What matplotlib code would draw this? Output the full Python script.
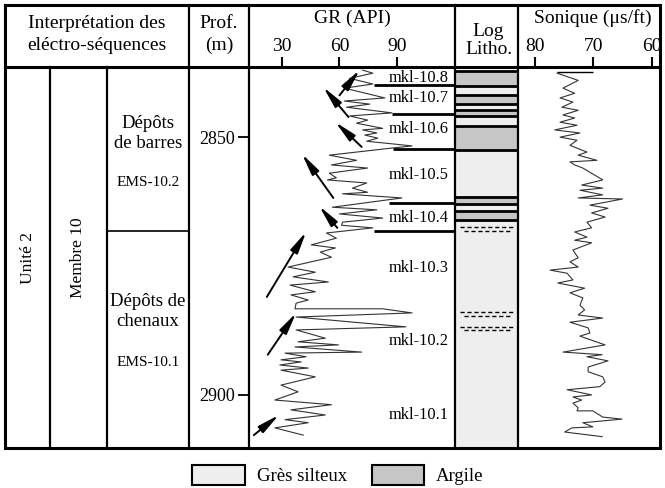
import matplotlib
matplotlib.use("Agg")
import matplotlib.pyplot as plt
from matplotlib.patches import Patch

plt.rcParams['font.family'] = ['Liberation Serif', 'DejaVu Serif']

# ---------------------------------------------------------------- data
# GR log (API) vs depth (m)
gr_depth = [2837.0, 2837.6, 2838.6, 2839.7, 2840.5, 2842.4, 2843.0, 2843.6, 2844.2, 2845.3,
            2845.9, 2846.7, 2847.3, 2848.3, 2848.6, 2849.2, 2849.6, 2850.2, 2850.8, 2851.7,
            2852.1, 2853.5, 2854.5, 2855.4, 2856.0, 2857.0, 2857.9, 2858.3, 2858.9, 2859.9,
            2860.7, 2861.0, 2861.8, 2863.6, 2864.1, 2864.9, 2865.7, 2866.5, 2867.1, 2867.6,
            2868.6, 2869.6, 2870.9, 2871.5, 2872.3, 2873.3, 2875.2, 2876.2, 2877.1, 2878.1,
            2878.7, 2880.0, 2880.6, 2881.6, 2882.2, 2883.3, 2883.3, 2884.1, 2884.9, 2886.8,
            2887.4, 2889.0, 2889.7, 2890.3, 2890.7, 2891.7, 2891.9, 2892.6, 2893.2, 2893.6,
            2894.2, 2894.8, 2895.2, 2896.5, 2898.1, 2899.4, 2901.0, 2901.9, 2902.9, 2903.9,
            2904.8, 2905.4, 2906.4, 2907.8]
gr_api = [72.1, 77.4, 65.3, 77.4, 62.6, 83.7, 62.6, 75.8, 63.7, 87.4,
          65.3, 74.7, 68.9, 82.6, 72.1, 79.5, 73.2, 80.0, 74.2, 97.9,
          87.9, 54.7, 68.9, 55.8, 74.7, 54.7, 58.4, 53.7, 74.2, 66.8,
          74.7, 61.6, 92.6, 56.3, 79.5, 60.0, 82.6, 61.6, 61.1, 77.4,
          53.2, 58.4, 45.3, 57.9, 50.0, 55.8, 33.2, 47.4, 35.8, 54.2,
          34.2, 47.4, 34.7, 43.7, 37.4, 36.8, 82.6, 97.9, 37.4, 94.7,
          37.4, 52.6, 38.4, 59.5, 36.8, 71.6, 31.6, 42.6, 29.5, 40.0,
          28.9, 43.7, 29.5, 47.4, 29.5, 38.4, 26.3, 55.8, 34.7, 52.6,
          31.6, 43.7, 26.3, 41.1]

# sonic log (us/ft) vs depth
son_depth = [2837.6, 2839.0, 2840.5, 2841.5, 2842.4, 2843.2, 2844.2, 2844.8, 2845.7, 2846.3,
             2847.1, 2847.7, 2848.6, 2849.2, 2850.0, 2850.6, 2851.6, 2852.9, 2853.5, 2854.5,
             2854.8, 2855.4, 2856.0, 2858.3, 2859.3, 2859.9, 2860.3, 2861.2, 2861.8, 2862.0,
             2863.2, 2863.8, 2864.7, 2865.5, 2866.5, 2867.6, 2868.4, 2869.4, 2870.0, 2870.5,
             2871.9, 2873.4, 2874.2, 2875.2, 2875.8, 2876.4, 2877.7, 2878.3, 2879.3, 2880.2,
             2881.2, 2882.6, 2883.5, 2884.5, 2885.1, 2885.9, 2887.0, 2888.0, 2888.6, 2890.3,
             2891.7, 2892.2, 2892.6, 2893.4, 2894.6, 2895.5, 2896.5, 2897.5, 2898.4, 2899.0,
             2900.0, 2900.4, 2901.0, 2901.6, 2902.5, 2903.1, 2903.1, 2904.3, 2904.7, 2905.4,
             2906.2, 2906.4, 2907.2, 2908.1]
son_us = [76.2, 72.6, 75.2, 73.2, 75.7, 73.5, 75.4, 72.6, 75.2, 73.2,
          75.7, 72.8, 76.6, 72.3, 75.7, 72.8, 74.0, 71.1, 72.6, 69.4,
          74.0, 73.2, 71.8, 68.4, 72.0, 68.4, 72.3, 68.4, 72.6, 65.0,
          70.6, 67.5, 70.3, 68.0, 71.1, 70.3, 73.2, 71.1, 73.2, 70.3,
          73.5, 72.6, 74.0, 72.6, 77.4, 74.5, 73.5, 76.1, 71.5, 74.0,
          71.8, 72.3, 71.5, 72.6, 68.4, 74.0, 70.9, 70.6, 72.3, 68.0,
          75.2, 68.5, 71.1, 67.5, 70.9, 70.9, 68.4, 68.0, 68.9, 74.5,
          70.3, 73.5, 72.0, 73.5, 72.6, 72.8, 70.1, 68.4, 65.1, 71.8,
          70.1, 73.7, 74.9, 68.5]
son_top_depth = 2837.4
son_top_range = (76.2, 70.1)

# lithology column
lith_top = [2837.2, 2840.0, 2841.9, 2843.5, 2844.8, 2846.0, 2847.9, 2852.5, 2861.6, 2863.0, 2864.4, 2866.0]
lith_bot = [2840.0, 2841.9, 2843.5, 2844.8, 2846.0, 2847.9, 2852.5, 2861.6, 2863.0, 2864.4, 2866.0, 2910.3]
lith_kind = ['argile', 'gres', 'argile', 'gres', 'argile', 'gres', 'argile', 'gres', 'argile', 'gres', 'argile', 'gres']
streak_depth = [2867.5, 2868.2, 2884.0, 2884.6, 2886.9, 2887.5]
streak_x0 = [0.08, 0.14, 0.08, 0.14, 0.08, 0.14]
streak_x1 = [0.94, 0.90, 0.94, 0.90, 0.94, 0.90]

# sequence boundaries and names
seq_depth = [2839.8, 2845.5, 2852.4, 2862.8, 2868.2]
seq_gr_start = [77.9, 87.4, 87.9, 85.8, 77.9]
mkl_names = ['mkl-10.8', 'mkl-10.7', 'mkl-10.6', 'mkl-10.5', 'mkl-10.4', 'mkl-10.3', 'mkl-10.2', 'mkl-10.1']
mkl_depth = [2838.6, 2842.5, 2848.4, 2857.4, 2865.6, 2875.3, 2889.5, 2903.9]
mkl_gr = 101.5

# trend arrows (tail -> head), GR / depth
arr_tail_gr = [60.0, 64.7, 71.6, 56.8, 58.9, 22.1, 22.6, 15.3]
arr_tail_d = [2841.9, 2846.1, 2851.9, 2861.8, 2867.6, 2881.0, 2892.2, 2907.8]
arr_head_gr = [70.5, 51.6, 57.9, 40.5, 49.5, 42.6, 37.4, 28.4]
arr_head_d = [2837.0, 2840.3, 2847.1, 2853.3, 2863.4, 2868.4, 2884.1, 2903.9]

gr_ticks = [30, 60, 90]
son_ticks = [80, 70, 60]
depth_ticks = [2850, 2900]

GRES = '#eeeeee'
ARGILE = '#c6c6c6'
colors = {'gres': GRES, 'argile': ARGILE}

# ---------------------------------------------------------------- layout
W, H = 665, 488
fig = plt.figure(figsize=(W / 100, H / 100), dpi=100)
D_TOP, D_BOT = 2836.4, 2910.3


def box(x0, y0, x1, y1):
    return fig.add_axes([x0 / W, 1 - y1 / H, (x1 - x0) / W, (y1 - y0) / H])


def track(ax):
    ax.set_ylim(D_BOT, D_TOP)
    ax.patch.set_visible(False)
    for s in ax.spines.values():
        s.set_visible(False)


# ----- GR track
ax_gr = box(249, 67, 455, 448)
track(ax_gr)
ax_gr.set_xlim(12.8, 120.3)
ax_gr.xaxis.tick_top()
ax_gr.set_xticks(gr_ticks)
ax_gr.tick_params(axis='x', direction='out', length=7.5, width=1.5, pad=1, labelsize=14)
ax_gr.set_yticks(depth_ticks)
ax_gr.tick_params(axis='y', direction='out', length=8, width=1.3, pad=2, labelsize=13)
ax_gr.plot(gr_api, gr_depth, color='#333333', lw=0.8)
ax_gr.hlines(seq_depth, seq_gr_start, 120.3, color='k', lw=2)
for name, d in zip(mkl_names, mkl_depth):
    ax_gr.text(mkl_gr, d, name, ha='center', va='center', fontsize=11.8)
for tg, td, hg, hd in zip(arr_tail_gr, arr_tail_d, arr_head_gr, arr_head_d):
    ax_gr.annotate('', xy=(hg, hd), xytext=(tg, td),
                   arrowprops=dict(arrowstyle='-|>,head_length=1.3,head_width=0.25',
                                   color='k', lw=1.4, shrinkA=0, shrinkB=0,
                                   mutation_scale=10))

# ----- lithology track
ax_li = box(455, 67, 518, 448)
track(ax_li)
ax_li.set_xlim(0, 1)
ax_li.set_xticks([])
ax_li.set_yticks([])
for t, b, k in zip(lith_top, lith_bot, lith_kind):
    ax_li.axhspan(b, t, color=colors[k], lw=0)
ax_li.hlines(lith_top, 0, 1, color='k', lw=2)
ax_li.hlines(streak_depth, streak_x0, streak_x1, color='k', lw=1,
             linestyles=(0, (3, 2)))

# ----- sonic track
ax_so = box(518, 67, 660, 448)
track(ax_so)
ax_so.set_xlim(82.9, 58.6)
ax_so.xaxis.tick_top()
ax_so.set_xticks(son_ticks)
ax_so.tick_params(axis='x', direction='out', length=7.5, width=1.5, pad=1, labelsize=14)
ax_so.set_yticks([])
ax_so.plot(son_us, son_depth, color='#333333', lw=0.8)
ax_so.hlines(son_top_depth, *son_top_range, color='k', lw=1)

# ----- table frame and headers
ax_bg = fig.add_axes([0, 0, 1, 1], zorder=10)
ax_bg.set_xlim(0, W)
ax_bg.set_ylim(H, 0)
ax_bg.axis('off')
ax_bg.plot([5, 660, 660, 5, 5], [5, 5, 448, 448, 5], color='k', lw=2.2,
           solid_joinstyle='miter')
ax_bg.plot([5, 660], [67, 67], color='k', lw=2.2)
for x in [189, 249, 455, 518]:
    ax_bg.plot([x, x], [5, 448], color='k', lw=1.6)
for x in [50, 107]:
    ax_bg.plot([x, x], [67, 448], color='k', lw=1.6)
ax_bg.plot([107, 189], [231, 231], color='k', lw=1.2)

hdr = dict(ha='center', va='center', fontsize=14)
ax_bg.text(97, 23, 'Interprétation des', **hdr)
ax_bg.text(97, 45, 'eléctro-séquences', **hdr)
ax_bg.text(219, 23, 'Prof.', **hdr)
ax_bg.text(219, 45, '(m)', **hdr)
ax_bg.text(352, 18, 'GR (API)', **hdr)
ax_bg.text(488, 31, 'Log', **hdr)
ax_bg.text(489, 50, 'Litho.', **hdr)
ax_bg.text(593, 18, 'Sonique (μs/ft)', **hdr)

ax_bg.text(28, 258, 'Unité 2', rotation=90, ha='center', va='center', fontsize=12.5)
ax_bg.text(78, 258, 'Membre 10', rotation=90, ha='center', va='center', fontsize=12.5)
ax_bg.text(148, 123, 'Dépôts', ha='center', va='center', fontsize=13.5)
ax_bg.text(148, 143, 'de barres', ha='center', va='center', fontsize=13.5)
ax_bg.text(148, 183, 'EMS-10.2', ha='center', va='center', fontsize=11)
ax_bg.text(148, 302, 'Dépôts de', ha='center', va='center', fontsize=13.5)
ax_bg.text(148, 322, 'chenaux', ha='center', va='center', fontsize=13.5)
ax_bg.text(148, 363, 'EMS-10.1', ha='center', va='center', fontsize=11)

handles = [Patch(facecolor=GRES, edgecolor='k', lw=1.5, label='Grès silteux'),
           Patch(facecolor=ARGILE, edgecolor='k', lw=1.5, label='Argile')]
fig.legend(handles=handles, loc='center', bbox_to_anchor=(338 / W, 1 - 475 / H),
           ncol=2, frameon=False, fontsize=13.5, handlelength=2.8,
           handleheight=1.25, handletextpad=0.65, columnspacing=1.3)

fig.savefig('out.png', dpi=100)
